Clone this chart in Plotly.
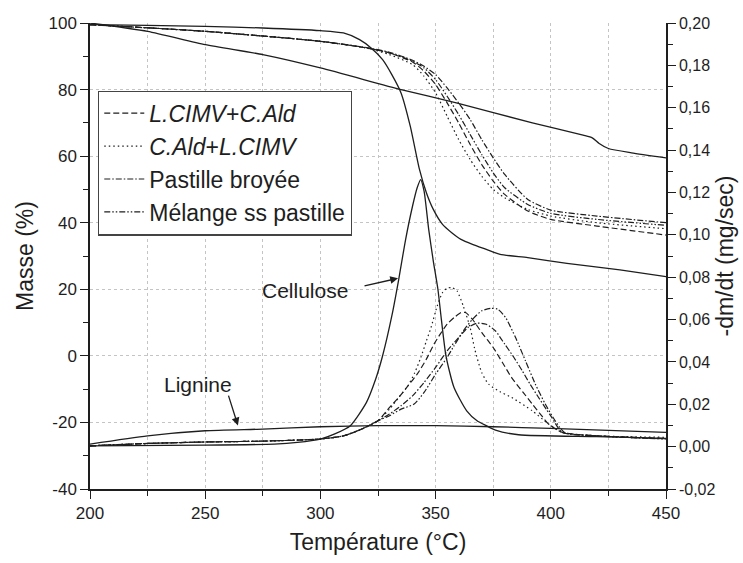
import plotly.graph_objects as go

# ---------------- data ----------------
# TG curves (left axis, Masse %)
T_blend_tg = [200, 250, 300, 320, 330, 340, 345, 350, 355, 360, 365, 370, 375, 380, 390, 400, 420, 450]
tg_lcimv_cald = [99.5, 97.5, 94.5, 92.5, 91, 88.3, 85.5, 81.5, 76, 70, 63.5, 57.5, 52.5, 48.5, 43.5, 41, 39, 36.3]
tg_cald_lcimv = [99.5, 97.5, 94.5, 92.5, 90.5, 87.5, 84, 79, 72, 65, 59, 54, 50, 47.5, 44, 42, 40, 38.2]
tg_pastille = [99.5, 97.5, 94.5, 92.6, 91.2, 88.8, 87, 84.5, 80.5, 76, 71, 65, 59.5, 54.5, 47, 43.8, 42, 40]
tg_melange = [99.5, 97.5, 94.5, 92.5, 91, 88.5, 86.5, 83, 78, 72.5, 66.5, 60.5, 55, 50.5, 45.5, 42.8, 41, 39.2]

T_cell_tg = [200, 225, 250, 275, 300, 310, 317, 322, 327, 331, 335, 339, 343, 346, 349, 353, 357, 361, 366, 372, 378, 390, 407, 430, 450]
tg_cellulose = [99.5, 99.3, 99, 98.5, 97.7, 97, 95, 92.5, 89, 84.5, 79, 69, 56, 49, 44, 39.5, 37, 35, 33.5, 32, 30.5, 29.5, 27.8, 25.8, 23.8]

T_lig_tg = [200, 225, 250, 275, 300, 335, 359, 392, 414, 418, 421, 425, 435, 450]
tg_lignine = [100, 97.5, 93.5, 90.5, 86.5, 80, 76, 70, 66.3, 65.5, 63.8, 62.3, 61, 59.5]

# DTG curves (right axis, -dm/dt mg/sec)
T_cell_dtg = [200, 250, 280, 290, 300, 306, 313, 320, 324, 327, 331, 334, 337, 340, 342, 343.5, 345, 347, 349, 351,
              352.5, 354.5, 358, 363.5, 368, 372, 376, 386, 420, 450]
dtg_cellulose = [0.0004, 0.0007, 0.0012, 0.0020, 0.0036, 0.0059, 0.0099, 0.0209, 0.0319, 0.0429, 0.0617, 0.0790,
                 0.0979, 0.1136, 0.1222, 0.1261, 0.1206, 0.1026, 0.0876, 0.0743, 0.0601, 0.0429, 0.0279, 0.0169,
                 0.0122, 0.0099, 0.0078, 0.0056, 0.0047, 0.0039]

T_lig_dtg = [200, 225, 250, 275, 300, 325, 350, 375, 400, 425, 450]
dtg_lignine = [0.0012, 0.0051, 0.0075, 0.0083, 0.0094, 0.0099, 0.0099, 0.0094, 0.0086, 0.0077, 0.0067]

T_base = [200, 225, 250, 275, 300, 310, 318, 325]
dtg_base = [0.0004, 0.0015, 0.0022, 0.0026, 0.0036, 0.0051, 0.0083, 0.0122]

T_dtg_cald_lcimv = T_base + [330, 334, 338, 341, 343.6, 346, 348, 350.7, 353, 355, 357, 359.3, 362, 365, 367, 370, 373,
                             378, 383, 392, 399, 405, 420, 450]
dtg_cald_lcimv = dtg_base + [0.0177, 0.0232, 0.0287, 0.0350, 0.0421, 0.0499, 0.0562, 0.0664, 0.0727, 0.0748, 0.0751,
                             0.0735, 0.0664, 0.0562, 0.0460, 0.0350, 0.0295, 0.0259, 0.0232, 0.0169, 0.0107, 0.0067,
                             0.0051, 0.0044]

T_dtg_lcimv_cald = T_base + [330, 334, 338, 342, 346, 349.3, 352, 355, 358, 361, 363, 366, 370, 375, 379, 383, 388,
                             392, 396, 399, 405, 420, 450]
dtg_lcimv_cald = dtg_base + [0.0185, 0.0232, 0.0287, 0.0342, 0.0413, 0.0484, 0.0531, 0.0578, 0.0609, 0.0633, 0.0633,
                             0.0601, 0.0539, 0.0468, 0.0397, 0.0326, 0.0256, 0.0201, 0.0146, 0.0107, 0.0067, 0.0051,
                             0.0039]

T_dtg_pastille = T_base + [330, 335, 340, 345, 350, 355, 360, 364, 368, 372, 376, 380, 384, 387.6, 391, 394.7, 398,
                           400.4, 405, 420, 450]
dtg_pastille = dtg_base + [0.0154, 0.0193, 0.0240, 0.0303, 0.0374, 0.0452, 0.0515, 0.0562, 0.0583, 0.0578, 0.0546,
                           0.0484, 0.0421, 0.0358, 0.0295, 0.0232, 0.0177, 0.0138, 0.0067, 0.0051, 0.0036]

T_dtg_melange = T_base + [330, 335, 340.7, 345, 350, 355, 358, 362, 366, 370, 374, 377, 380.4, 384.7, 389, 393.3,
                          397.6, 401.9, 406, 420, 450]
dtg_melange = dtg_base + [0.0146, 0.0177, 0.0201, 0.0256, 0.0342, 0.0421, 0.0476, 0.0546, 0.0601, 0.0641, 0.0653,
                          0.0649, 0.0609, 0.0515, 0.0405, 0.0295, 0.0201, 0.0122, 0.0067, 0.0051, 0.0036]

# axis ticks
x_ticks = [200, 250, 300, 350, 400, 450]
y_ticks = [-40, -20, 0, 20, 40, 60, 80, 100]
y_ticktext = ["-40", "-20", "0", "20", "40", "60", "80", "100"]
y2_ticks = [-0.02, 0.0, 0.02, 0.04, 0.06, 0.08, 0.10, 0.12, 0.14, 0.16, 0.18, 0.20]
y2_ticktext = ["-0,02", "0,00", "0,02", "0,04", "0,06", "0,08", "0,10", "0,12", "0,14", "0,16", "0,18", "0,20"]

# ---------------- figure ----------------
INK = "#1e1e1e"
FONT = "Liberation Sans, Arial, sans-serif"
DASH = "6px,3px"
DOT = "1.5px,3px"
DASHDOT = "6px,2px,1.5px,2px"
DASHDOTDOT = "6px,2px,1.5px,2px,1.5px,2px"

fig = go.Figure()

series = [
    ("<i>L.CIMV</i>+<i>C.Ald</i>", DASH, T_blend_tg, tg_lcimv_cald, T_dtg_lcimv_cald, dtg_lcimv_cald),
    ("<i>C.Ald</i>+<i>L.CIMV</i>", DOT, T_blend_tg, tg_cald_lcimv, T_dtg_cald_lcimv, dtg_cald_lcimv),
    ("Pastille broyée", DASHDOT, T_blend_tg, tg_pastille, T_dtg_pastille, dtg_pastille),
    ("Mélange ss pastille", DASHDOTDOT, T_blend_tg, tg_melange, T_dtg_melange, dtg_melange),
]
for i, (name, dash, tx, ty, dx, dy) in enumerate(series):
    fig.add_trace(go.Scatter(x=tx, y=ty, mode="lines", name=name, legendgroup=f"g{i}",
                             line=dict(color=INK, width=1.2, dash=dash, shape="spline", smoothing=0.6)))
    fig.add_trace(go.Scatter(x=dx, y=dy, mode="lines", name=name, legendgroup=f"g{i}", showlegend=False,
                             yaxis="y2",
                             line=dict(color=INK, width=1.2, dash=dash, shape="spline", smoothing=0.6)))

solid = dict(color=INK, width=1.3, shape="spline", smoothing=0.6)
fig.add_trace(go.Scatter(x=T_cell_tg, y=tg_cellulose, mode="lines", showlegend=False, line=solid))
fig.add_trace(go.Scatter(x=T_lig_tg, y=tg_lignine, mode="lines", showlegend=False, line=solid))
fig.add_trace(go.Scatter(x=T_cell_dtg, y=dtg_cellulose, mode="lines", showlegend=False, yaxis="y2", line=solid))
fig.add_trace(go.Scatter(x=T_lig_dtg, y=dtg_lignine, mode="lines", showlegend=False, yaxis="y2", line=solid))

grid = dict(showgrid=True, gridcolor="#c4c4c4", griddash="dot", gridwidth=1)

fig.update_layout(
    width=743, height=563,
    margin=dict(l=90, r=77, t=23, b=74, autoexpand=False),
    paper_bgcolor="white", plot_bgcolor="white",
    font=dict(family=FONT, color=INK, size=17),
    xaxis=dict(range=[200, 450], tickvals=x_ticks, ticks="outside", ticklen=8, tickwidth=1.3,
               tickcolor=INK, showline=True, linecolor=INK, linewidth=1.5, zeroline=False, automargin=False,
               minor=dict(dtick=25, tick0=200, ticks="outside", ticklen=5, tickcolor=INK,
                          showgrid=True, gridcolor="#c4c4c4", griddash="dot"),
               title=dict(text="Température (°C)", font=dict(size=23), standoff=12),
               tickfont=dict(size=17), **grid),
    yaxis=dict(range=[-40, 100], tickvals=y_ticks, ticktext=y_ticktext, ticks="outside", ticklen=8,
               tickwidth=1.3, tickcolor=INK, showline=True, linecolor=INK, linewidth=1.5, zeroline=False,
               automargin=False,
               minor=dict(dtick=10, tick0=0, ticks="outside", ticklen=5, tickcolor=INK, showgrid=False),
               title=dict(text="Masse (%)", font=dict(size=23), standoff=8),
               tickfont=dict(size=17), **grid),
    yaxis2=dict(range=[-0.02, 0.20], overlaying="y", side="right", tickvals=y2_ticks, ticktext=y2_ticktext,
                ticks="outside", ticklen=8, tickwidth=1.3, tickcolor=INK, showline=True, linecolor=INK,
                linewidth=1.5, zeroline=False, showgrid=False, automargin=False,
                minor=dict(dtick=0.01, tick0=0, ticks="outside", ticklen=5, tickcolor=INK),
                title=dict(text="-dm/dt (mg/sec)", font=dict(size=23), standoff=2),
                tickfont=dict(size=16)),
    legend=dict(x=0.014, y=0.855, xanchor="left", yanchor="top", bgcolor="white",
                bordercolor="#444", borderwidth=1.2, font=dict(size=23, family=FONT),
                tracegroupgap=0, itemwidth=40),
    showlegend=True,
)

# annotations
fig.add_annotation(x=293.5, y=19.7, xref="x", yref="y", text="Cellulose", showarrow=False,
                   font=dict(size=21, family=FONT, color=INK))
fig.add_annotation(x=333.7, y=23.3, ax=318.5, ay=20.9, xref="x", yref="y", axref="x", ayref="y",
                   text="", showarrow=True, arrowhead=2, arrowsize=1.2, arrowwidth=1.3, arrowcolor=INK)
fig.add_annotation(x=247, y=-8.5, xref="x", yref="y", text="Lignine", showarrow=False,
                   font=dict(size=21, family=FONT, color=INK))
fig.add_annotation(x=264.2, y=-20.9, ax=259.9, ay=-11.5, xref="x", yref="y", axref="x", ayref="y",
                   text="", showarrow=True, arrowhead=2, arrowsize=1.2, arrowwidth=1.3, arrowcolor=INK)

fig.write_html("out.html", config={"displayModeBar": False},
               post_script="document.body.style.margin='0';document.body.style.padding='0';")
